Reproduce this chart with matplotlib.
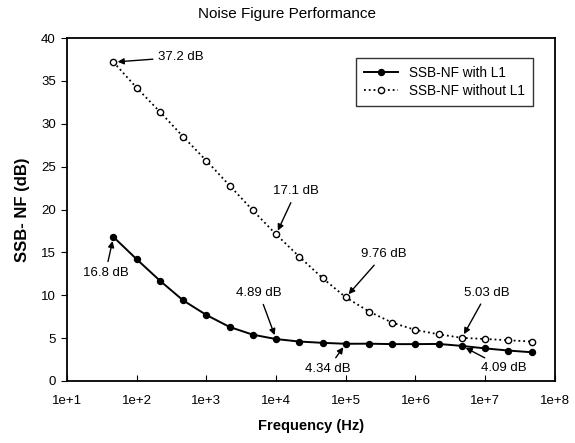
import numpy as np
import matplotlib
matplotlib.use("Agg")
import matplotlib.pyplot as plt

plt.rcParams['font.family'] = ['Liberation Sans', 'DejaVu Sans']

# Frequencies: one point every 1/3 decade from ~46 Hz to ~46 MHz
log_freq = [5/3, 6/3, 7/3, 8/3, 9/3, 10/3, 11/3, 12/3, 13/3, 14/3, 15/3,
            16/3, 17/3, 18/3, 19/3, 20/3, 21/3, 22/3, 23/3]
freq = [10 ** v for v in log_freq]

nf_with_l1 = [16.8, 14.2, 11.7, 9.4, 7.7, 6.3, 5.4, 4.89, 4.6, 4.45, 4.34,
              4.35, 4.3, 4.3, 4.32, 4.09, 3.8, 3.55, 3.35]
nf_without_l1 = [37.2, 34.2, 31.4, 28.5, 25.7, 22.8, 19.9, 17.1, 14.5, 12.0,
                 9.76, 8.1, 6.8, 5.95, 5.45, 5.03, 4.9, 4.75, 4.6]

xtick_vals = [1e1, 1e2, 1e3, 1e4, 1e5, 1e6, 1e7, 1e8]
xtick_labels = ["1e+1", "1e+2", "1e+3", "1e+4", "1e+5", "1e+6", "1e+7", "1e+8"]
ytick_vals = [0, 5, 10, 15, 20, 25, 30, 35, 40]

# annotations: (series index, point index, label, text offset in pixels)
annots = [
    (1, 0, "37.2 dB", (45, 5), 'left'),
    (1, 7, "17.1 dB", (20, 43), 'center'),
    (0, 0, "16.8 dB", (-8, -36), 'center'),
    (0, 7, "4.89 dB", (-17, 46), 'center'),
    (1, 10, "9.76 dB", (38, 43), 'center'),
    (0, 10, "4.34 dB", (-18, -25), 'center'),
    (1, 15, "5.03 dB", (25, 45), 'center'),
    (0, 15, "4.09 dB", (42, -22), 'center'),
]

fig = plt.figure(figsize=(5.75, 4.43), dpi=100)
ax = fig.add_axes([0.1165, 0.14, 0.8485, 0.774])

ax.plot(freq, nf_with_l1, '-', color='black', lw=1.4, marker='o',
        markersize=4.3, markerfacecolor='black', markeredgecolor='black',
        label='SSB-NF with L1')
ax.plot(freq, nf_without_l1, ':', color='black', lw=1.3, marker='o',
        markersize=4.5, markerfacecolor='white', markeredgecolor='black',
        markeredgewidth=1.0, label='SSB-NF without L1')

ax.set_xscale('log')
ax.set_xlim(1e1, 1e8)
ax.set_ylim(0, 40)
ax.set_xticks(xtick_vals)
ax.set_xticklabels(xtick_labels)
ax.xaxis.set_minor_locator(matplotlib.ticker.NullLocator())
ax.set_yticks(ytick_vals)
ax.tick_params(axis='x', direction='in', length=4, labelsize=9.5, pad=10)
ax.tick_params(axis='y', direction='out', length=4, labelsize=9.5, pad=4)
for s in ax.spines.values():
    s.set_linewidth(1.3)

ax.set_xlabel('Frequency (Hz)', fontsize=10.5, fontweight='bold', labelpad=9)
ax.set_ylabel('SSB- NF (dB)', fontsize=12, fontweight='bold', labelpad=8)
fig.suptitle('Noise Figure Performance', fontsize=11, y=0.985)

series = [nf_with_l1, nf_without_l1]
for si, pi, txt, off, ha in annots:
    ax.annotate(txt, xy=(freq[pi], series[si][pi]), xytext=off,
                textcoords='offset pixels', ha=ha, va='center', fontsize=9.5,
                arrowprops=dict(arrowstyle='-|>', color='black', lw=1.0,
                                mutation_scale=9, shrinkA=2, shrinkB=3))

leg = ax.legend(loc='upper right', bbox_to_anchor=(0.955, 0.942), fontsize=9.8,
                frameon=True, fancybox=False, edgecolor='black',
                borderaxespad=0, handlelength=2.5, borderpad=0.6,
                labelspacing=0.3)
leg.get_frame().set_linewidth(1.0)

fig.savefig('out.png', dpi=100)
